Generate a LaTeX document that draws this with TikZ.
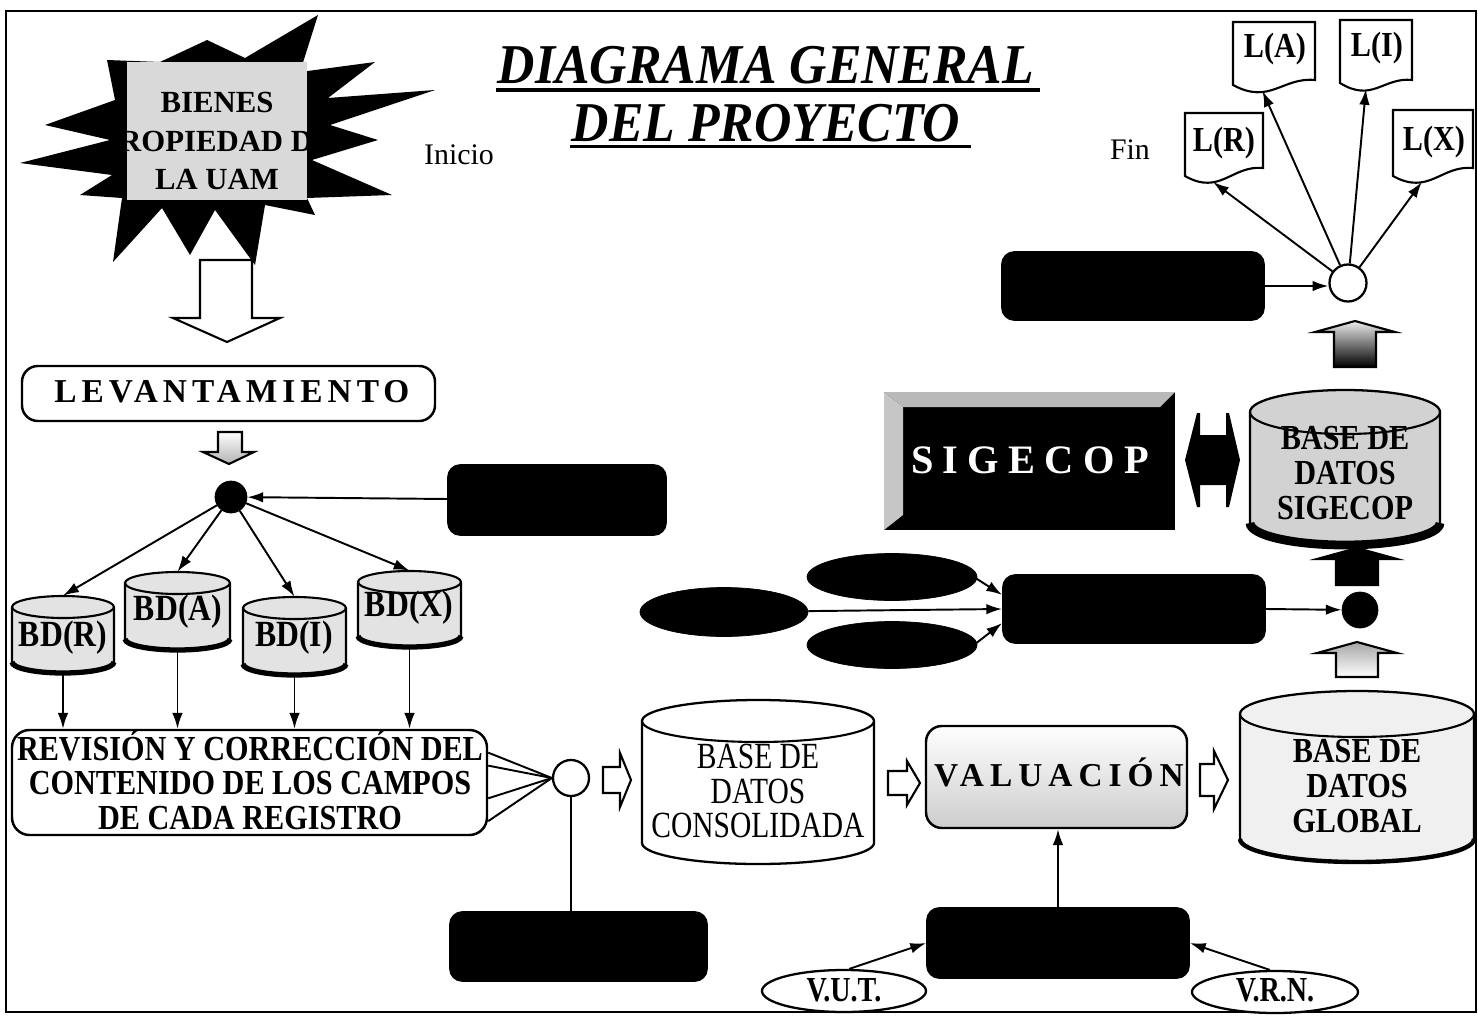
\documentclass[tikz,border=0pt]{standalone}
\usepackage{fontspec}
\setmainfont{Liberation Serif}
\newfontfamily\condfont[FakeStretch=0.86]{Liberation Serif}
\newfontfamily\narrowfont[FakeStretch=0.80]{Liberation Serif}
\newfontfamily\titlefont[FakeStretch=0.92]{Liberation Serif}
\newfontfamily\trackfont[LetterSpace=15]{Liberation Serif}
\newfontfamily\valtrackfont[LetterSpace=18]{Liberation Serif}
\newfontfamily\widetrackfont[LetterSpace=23]{Liberation Serif}
\usetikzlibrary{arrows.meta,shapes.geometric}

% rectangle node given by its corners (pixel grid, y downwards)
\newcommand{\boxnode}[7]{%
  \node[#6,inner sep=0pt,minimum width={(#4-#2)*0.02cm},minimum height={(#5-#3)*0.02cm}]
    (#1) at ({(#2+#4)/2},{(#3+#5)/2}) {#7};}

% database cylinder: name, x1, y1, x2, y2, cap radius, body style
\newcommand{\cylnode}[7]{%
  \path[#7] (#2,#3+#6) -- (#2,#5-#6)
    arc[start angle=180,end angle=0,x radius={(#4-#2)/2},y radius=#6]
    -- (#4,#3+#6)
    arc[start angle=0,end angle=-180,x radius={(#4-#2)/2},y radius=#6] -- cycle;
  \draw[line width=1.2pt] (#2,#3+#6)
    arc[start angle=180,end angle=0,x radius={(#4-#2)/2},y radius=#6];
  \node[inner sep=0pt,minimum width={(#4-#2)*0.02cm},minimum height={(#5-#3)*0.02cm}]
    (#1) at ({(#2+#4)/2},{(#3+#5)/2}) {};}

% heavy lower rim of a cylinder: x1, x2, y2, cap radius, width
\newcommand{\cylbase}[5]{%
  \draw[line width=#5] (#1,#3-#4)
    arc[start angle=180,end angle=0,x radius={(#2-#1)/2},y radius=#4];}

% report sheet with wavy lower edge: target name, x1, y1, x2, y left, y right
\newcommand{\docshape}[6]{%
  \draw[line width=1.2pt,fill=white] (#2,#3) -- (#4,#3) -- (#4,#6)
    .. controls ({#2+0.6*(#4-#2)},{#6-3}) and ({#2+0.45*(#4-#2)},{#5+20}) .. (#2,#5) -- cycle;
  \coordinate (#1) at ({#2+0.36*(#4-#2)},{#5+6});}

% upward block arrow with a flat roof: centre x, top, bottom, style
\newcommand{\housearrow}[4]{%
  \path[#4] (#1,#2) -- (#1+40,#2+11) -- (#1+21,#2+11) -- (#1+21,#3)
    -- (#1-21,#3) -- (#1-21,#2+11) -- (#1-40,#2+11) -- cycle;}

% rightward block arrow: x start, x head, x tip, centre y, half body, half head, style
\newcommand{\rightblock}[7]{%
  \path[#7] (#1,#4-#5) -- (#2,#4-#5) -- (#2,#4-#6) -- (#3,#4)
    -- (#2,#4+#6) -- (#2,#4+#5) -- (#1,#4+#5) -- cycle;}

\begin{document}
\begin{tikzpicture}[x=0.02cm,y=-0.02cm,
  conn/.style={line width=1.1pt,-{Latex[length=9pt,width=6pt]}},
  link/.style={line width=1.1pt},
  blackbox/.style={draw=black,fill=black,rounded corners=7pt,line width=1pt},
  whitebox/.style={draw=black,fill=white,rounded corners=9pt,line width=1.4pt},
  blockshape/.style={draw=black,line width=1.2pt,line join=miter},
  boldlabel/.style={font=\condfont\bfseries\fontsize{20pt}{19.8pt}\selectfont,align=center,inner sep=0pt},
  dblabel/.style={font=\condfont\bfseries\fontsize{21pt}{21pt}\selectfont,inner sep=0pt},
  doclabel/.style={font=\condfont\bfseries\fontsize{20pt}{20pt}\selectfont,inner sep=0pt},
  plainlabel/.style={font=\fontsize{17pt}{17pt}\selectfont,inner sep=0pt},
]
\useasboundingbox (0,0) rectangle (1478,1021);
\fill[white] (0,0) rectangle (1478,1021);
\draw[line width=1pt] (6,11) rectangle (1476,1012);

% ---- starting point: star burst ----
\fill[black] (107,60) -- (160,62) -- (207,40) -- (245,58) -- (318,15) -- (300,72)
  -- (375,62) -- (328,98) -- (435,90) -- (330,125) -- (378,140) -- (312,160)
  -- (392,195) -- (307,198) -- (315,215) -- (265,205) -- (255,265) -- (215,210)
  -- (190,255) -- (162,208) -- (113,262) -- (122,198) -- (80,195) -- (112,175)
  -- (20,163) -- (110,140) -- (45,125) -- (115,100) -- cycle;
\fill[gray!30] (127,62) rectangle (307,200);
\begin{scope}
  \clip (127,62) rectangle (307,200);
  \node[font=\bfseries\fontsize{17.5pt}{22pt}\selectfont,align=center,inner sep=0pt]
    (bienes) at (217,141) {BIENES\\PROPIEDAD DE\\LA UAM};
\end{scope}
\node[plainlabel] (inicio) at (459,155) {Inicio};
\node[plainlabel] (fin) at (1130,150) {Fin};

% ---- title ----
\node[font=\titlefont\bfseries\itshape\fontsize{32pt}{32pt}\selectfont,inner sep=0pt,anchor=base]
  (title1) at (766,83) {DIAGRAMA GENERAL};
\node[font=\titlefont\bfseries\itshape\fontsize{32pt}{32pt}\selectfont,inner sep=0pt,anchor=base]
  (title2) at (766,141) {DEL PROYECTO};
\draw[line width=1.8pt] ([xshift=-1pt,yshift=-4pt]title1.base west) -- ([xshift=3pt,yshift=-4pt]title1.base east);
\draw[line width=1.8pt] ([xshift=-1pt,yshift=-3pt]title2.base west) -- ([xshift=6pt,yshift=-3pt]title2.base east);

% ---- left column ----
\path[blockshape,fill=white] (200,260) -- (252,260) -- (252,318) -- (280,318)
  -- (227,342) -- (173,318) -- (200,318) -- cycle;
\boxnode{lev}{22}{366}{435}{421}{whitebox}{}
\node[font=\trackfont\bfseries\fontsize{19pt}{19pt}\selectfont,inner sep=0pt] (levt) at (232,392) {LEVANTAMIENTO};
\path[blockshape,top color=white,bottom color=gray!60] (218,432) -- (242,432) -- (242,452)
  -- (254,452) -- (229,464) -- (203,452) -- (218,452) -- cycle;

\node[circle,fill=black,draw=black,inner sep=0pt,minimum size={32*0.02cm}] (dotL) at (231,497) {};
\boxnode{boxL}{448}{465}{666}{535}{blackbox}{}
\draw[conn] (boxL) -- (dotL);

\cylnode{bdR}{12}{596}{114}{673}{11}{draw=black,line width=1.2pt,fill=gray!22}
\cylnode{bdA}{125}{572}{230}{650}{11}{draw=black,line width=1.2pt,fill=gray!22}
\cylnode{bdI}{243}{597}{346}{675}{11}{draw=black,line width=1.2pt,fill=gray!22}
\cylnode{bdX}{358}{571}{461}{647}{11}{draw=black,line width=1.2pt,fill=gray!22}
\cylbase{12}{114}{673}{11}{3pt}
\cylbase{125}{230}{650}{11}{3pt}
\cylbase{243}{346}{675}{11}{3pt}
\cylbase{358}{461}{647}{11}{3pt}
\node[dblabel] (bdRt) at (63,638) {BD(R)};
\node[dblabel] (bdAt) at (178,612) {BD(A)};
\node[dblabel] (bdIt) at (294,638) {BD(I)};
\node[dblabel] (bdXt) at (409,608) {BD(X)};

\draw[conn] (dotL) -- (bdR.north);
\draw[conn] (dotL) -- (bdA.north);
\draw[conn] (dotL) -- (bdI.north);
\draw[conn] (dotL) -- (bdX.north);

\boxnode{rev}{12}{730}{487}{835}{whitebox,rounded corners=10pt}{}
\node[boldlabel] (revt) at (250,780) {REVISIÓN Y CORRECCIÓN DEL\\CONTENIDO DE LOS CAMPOS\\DE CADA REGISTRO};
\draw[conn] (bdR.south) -- (bdR.south |- rev.north);
\draw[conn] (bdA.south) -- (bdA.south |- rev.north);
\draw[conn] (bdI.south) -- (bdI.south |- rev.north);
\draw[conn] (bdX.south) -- (bdX.south |- rev.north);

\node[circle,draw=black,fill=white,line width=1.3pt,inner sep=0pt,minimum size={36*0.02cm}] (cir2) at (571,778) {};
\draw[link] ([yshift=17pt]rev.east) -- (cir2.west);
\draw[link] ([yshift=9.6pt]rev.east) -- (cir2.west);
\draw[link] ([yshift=-9pt]rev.east) -- (cir2.west);
\draw[link] ([yshift=-22pt]rev.east) -- (cir2.west);
\boxnode{boxC}{450}{912}{707}{981}{blackbox}{}
\draw[link] (cir2.south) -- (cir2.south |- boxC.north);

% ---- consolidation and valuation ----
\rightblock{603}{620}{631}{780}{13}{27}{blockshape,fill=white}
\cylnode{cons}{642}{700}{874}{864}{21}{draw=black,line width=1.3pt,fill=white}
\node[font=\narrowfont\fontsize{21pt}{19.8pt}\selectfont,align=center,inner sep=0pt]
  (const) at (758,791) {BASE DE\\DATOS\\CONSOLIDADA};
\rightblock{888}{907}{920}{783}{12}{22}{blockshape,fill=white}
\boxnode{val}{926}{726}{1187}{828}{whitebox,top color=white,middle color=white,bottom color=gray!40}{}
\node[font=\valtrackfont\bfseries\fontsize{19pt}{19pt}\selectfont,inner sep=0pt] (valt) at (1059,772) {VALUACIÓN};
\rightblock{1200}{1214}{1228}{780}{16}{29}{blockshape,fill=white}

\cylnode{glob}{1240}{691}{1474}{862}{23}{draw=black,line width=1.3pt,fill=gray!12}
\cylbase{1240}{1474}{862}{23}{2.5pt}
\node[boldlabel] (globt) at (1357,786) {BASE DE\\DATOS\\GLOBAL};

\boxnode{boxV}{927}{908}{1189}{978}{blackbox}{}
\draw[conn] (boxV.north) -- (boxV.north |- val.south);
\node[ellipse,draw=black,fill=white,line width=1.3pt,inner sep=0pt,
  minimum width={164*0.02cm},minimum height={42*0.02cm}] (vut) at (844,991) {};
\node[font=\narrowfont\bfseries\fontsize{20pt}{20pt}\selectfont,inner sep=0pt] (vutt) at (844,990) {V.U.T.};
\node[ellipse,draw=black,fill=white,line width=1.3pt,inner sep=0pt,
  minimum width={166*0.02cm},minimum height={42*0.02cm}] (vrn) at (1275,992) {};
\node[font=\narrowfont\bfseries\fontsize{20pt}{20pt}\selectfont,inner sep=0pt] (vrnt) at (1275,990) {V.R.N.};
\draw[conn] ([xshift=3pt]vut.north) -- (boxV.west);
\draw[conn] ([xshift=-3pt]vrn.north) -- (boxV.east);

% ---- inputs to the global base ----
\node[ellipse,fill=black,draw=black,inner sep=0pt,minimum width={168*0.02cm},minimum height={49*0.02cm}] (ellL) at (724,612) {};
\node[ellipse,fill=black,draw=black,inner sep=0pt,minimum width={170*0.02cm},minimum height={47*0.02cm}] (ellU) at (892,577) {};
\node[ellipse,fill=black,draw=black,inner sep=0pt,minimum width={170*0.02cm},minimum height={47*0.02cm}] (ellD) at (892,645) {};
\boxnode{boxM}{1003}{575}{1265}{643}{blackbox}{}
\draw[conn] (ellL) -- (boxM.west);
\draw[conn] ([xshift=-2pt]ellU.east) -- ([yshift=8pt]boxM.west);
\draw[conn] ([xshift=-2pt]ellD.east) -- ([yshift=-8pt]boxM.west);
\node[circle,fill=black,draw=black,inner sep=0pt,minimum size={36*0.02cm}] (dotR) at (1360,610) {};
\draw[conn] (boxM.east) -- (dotR);
\housearrow{1357}{642}{677}{blockshape,top color=gray!70,middle color=white,bottom color=white}
\housearrow{1357}{548}{585}{blockshape,fill=black}

% ---- SIGECOP ----
\boxnode{sig}{884}{392}{1175}{530}{fill=black}{}
\fill[gray!55] (884,392) -- (1175,392) -- (1160,407) -- (903,407) -- cycle;
\fill[gray!45] (884,392) -- (903,407) -- (903,515) -- (884,530) -- cycle;
\node[font=\widetrackfont\bfseries\fontsize{23pt}{23pt}\selectfont,text=white,inner sep=0pt] (sigt) at (1030,460) {SIGECOP};
\path[fill=black] (1185,460) -- (1197,413) -- (1200,413) -- (1200,435) -- (1226,435) -- (1226,413)
  -- (1229,413) -- (1240,460) -- (1229,507) -- (1226,507) -- (1226,485) -- (1200,485)
  -- (1200,507) -- (1197,507) -- cycle;
\cylnode{sigdb}{1250}{390}{1440}{545}{22}{draw=black,line width=1.3pt,fill=gray!35}
\cylbase{1250}{1440}{545}{22}{5pt}
\node[boldlabel] (sigdbt) at (1345,473) {BASE DE\\DATOS\\SIGECOP};
\housearrow{1355}{321}{367}{blockshape,top color=gray!15,middle color=black,bottom color=black}

% ---- reports ----
\node[circle,draw=black,fill=white,line width=1.3pt,inner sep=0pt,minimum size={37*0.02cm}] (hub) at (1348,283) {};
\boxnode{boxT}{1002}{252}{1264}{320}{blackbox}{}
\draw[conn] (boxT.east) -- (boxT.east -| hub.west);
\docshape{lR}{1185}{113}{1263}{176}{168}
\docshape{lA}{1233}{22}{1315}{85}{80}
\docshape{lI}{1340}{20}{1412}{83}{80}
\docshape{lX}{1393}{110}{1473}{176}{168}
\node[doclabel] (lRt) at (1224,143) {L(R)};
\node[doclabel] (lAt) at (1275,49) {L(A)};
\node[doclabel] (lIt) at (1377,48) {L(I)};
\node[doclabel] (lXt) at (1434,142) {L(X)};
\draw[conn] (hub) -- (lR);
\draw[conn] (hub) -- (lA);
\draw[conn] (hub) -- (lI);
\draw[conn] (hub) -- (lX);
\end{tikzpicture}
\end{document}
